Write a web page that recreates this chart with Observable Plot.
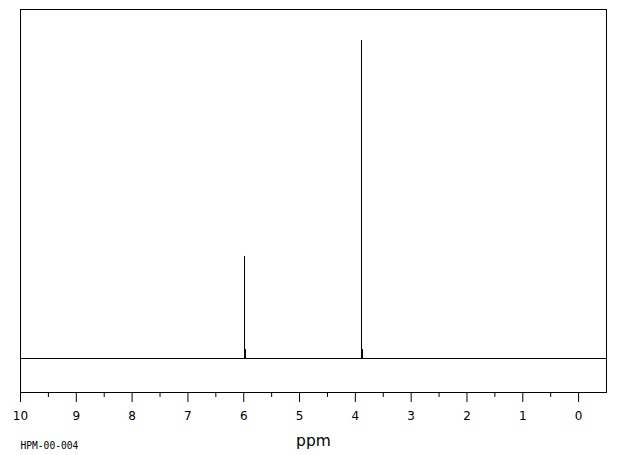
<!DOCTYPE html>
<html>
<head>
<meta charset="utf-8">
<script src="https://cdn.jsdelivr.net/npm/d3@7"></script>
<script src="https://cdn.jsdelivr.net/npm/@observablehq/plot@0.6"></script>
<style>
  html, body { margin: 0; padding: 0; background: #fff; }
  #chart svg { display: block; }
</style>
</head>
<body>
<div id="chart"></div>
<script>
// Peak positions (ppm) and relative intensities
const peakPpm = [5.986, 5.968, 3.890, 3.872];
const peakIntensity = [32.1, 2.8, 100, 2.8];
const majorTicks = [10, 9, 8, 7, 6, 5, 4, 3, 2, 1, 0];
const minorTicks = [9.5, 8.5, 7.5, 6.5, 5.5, 4.5, 3.5, 2.5, 1.5, 0.5];
const xLabel = "ppm";
const sampleId = "HPM-00-004";

const peaks = peakPpm.map((p, i) => ({ppm: p, intensity: peakIntensity[i]}));

const chart = Plot.plot({
  width: 620,
  height: 455,
  marginLeft: 20,
  marginRight: 14,
  marginTop: 9,
  marginBottom: 63,
  style: {fontFamily: "DejaVu Sans", background: "#fff", color: "#000"},
  x: {domain: [10, -0.5], axis: null},
  y: {domain: [-10.69, 109.75], axis: null},
  marks: [
    Plot.frame({stroke: "#000", strokeWidth: 1}),
    Plot.ruleY([0], {stroke: "#000", strokeWidth: 1}),
    Plot.ruleX(peaks, {x: "ppm", y1: 0, y2: "intensity", stroke: "#000", strokeWidth: 1}),
    Plot.axisX({ticks: minorTicks, tickSize: 5, tickFormat: () => "", stroke: "#000", label: null}),
    Plot.axisX({ticks: majorTicks, tickSize: 10, tickPadding: 9, tickFormat: d => String(d), fontSize: 12, fill: "#000", stroke: "#000", label: null}),
    Plot.text([xLabel], {frameAnchor: "bottom", text: d => d, dy: 53, fontSize: 15.5, fill: "#000", lineAnchor: "bottom"}),
    Plot.text([sampleId], {frameAnchor: "bottom-left", text: d => d, dy: 56, fontSize: 9.6, fontFamily: "DejaVu Sans Mono", textAnchor: "start", fill: "#000", lineAnchor: "bottom"})
  ]
});
document.getElementById("chart").appendChild(chart);
</script>
</body>
</html>
